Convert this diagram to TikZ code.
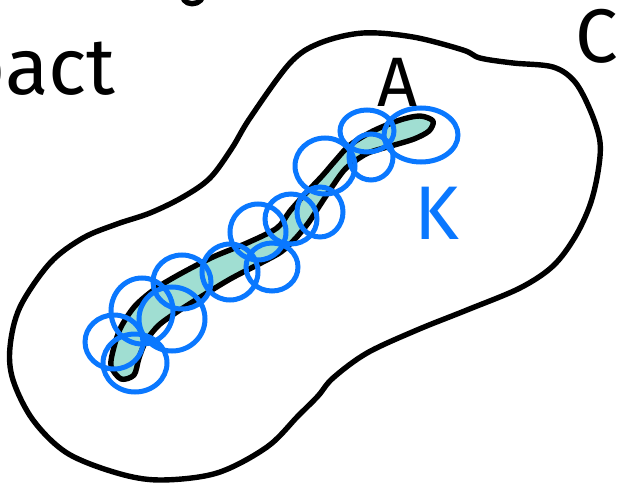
\documentclass[tikz,border=0pt]{standalone}
\usepackage{fontspec}
\setmainfont{Fira Sans}
\definecolor{penblue}{RGB}{10,120,255}
\definecolor{mint}{RGB}{160,222,210}
\tikzset{
  ink/.style={draw=black, line width=5.4pt, line cap=round, line join=round},
  loop/.style={draw=penblue, line width=5pt},
  letter/.style={inner sep=0pt, font=\fontsize{76}{76}\selectfont},
}
\begin{document}
\begin{tikzpicture}[x=1pt, y=-1pt]
\useasboundingbox (0,0) rectangle (621,487);
\clip (0,0) rectangle (621,487);

% label fragment at the top left
\node[letter, anchor=base east, font=\fontsize{80}{80}\selectfont] (word) at (116,95) {pact};
% tail of a stroke reaching in from above
\coordinate (tailA) at (184,0);
\coordinate (tailB) at (201,0);
\draw[ink] (tailA) .. controls (188,5) and (196,5) .. (tailB);

% the outer region C
\draw[ink] plot[smooth cycle, tension=0.55] coordinates {
  (250,118) (290,63) (320,43) (363,33) (413,37) (463,50) (480,58)
  (513,63) (553,67) (575,82) (591,112) (600,142) (598,172) (590,205)
  (575,237) (553,266) (520,288) (467,310) (417,330) (367,353) (333,378)
  (318,396) (298,416) (267,447) (217,473) (160,480) (117,473) (67,453)
  (33,420) (13,380) (10,347) (20,307) (50,263) (83,238) (117,224)
  (150,213) (183,197) (210,178) (232,148)};

% the thin set A
\filldraw[ink, fill=mint] plot[smooth cycle, tension=0.5] coordinates {
  (433,121) (420,116) (400,120) (373,131) (350,145) (335,161) (323,175)
  (307,192) (290,211) (277,228) (247,243) (213,257) (180,274) (155,289)
  (135,306) (121,327) (114,347) (111,366) (121,379)
  (134,375) (139,358) (146,341) (159,325) (180,310) (207,293) (232,278)
  (261,263) (281,252) (295,239) (309,222) (322,202) (341,174) (351,164)
  (368,153) (391,146) (414,139) (429,131)};

% covering of A by small discs
\draw[loop] (421,135) ellipse [x radius=37, y radius=27];
\draw[loop] (367,131) ellipse [x radius=27, y radius=21];
\draw[loop] (371,157) ellipse [x radius=22, y radius=23];
\draw[loop] (325,166) ellipse [x radius=30, y radius=28];
\draw[loop] (320,212) ellipse [x radius=23, y radius=25];
\draw[loop] (291,219) ellipse [x radius=26, y radius=25];
\draw[loop] (258,232) ellipse [x radius=28, y radius=28];
\draw[loop] (272,267) ellipse [x radius=26, y radius=24];
\draw[loop] (230,272) ellipse [x radius=28, y radius=28];
\draw[loop] (182,282) ellipse [x radius=29, y radius=27];
\draw[loop] (172,319) ellipse [x radius=33, y radius=32];
\draw[loop] (142,311) ellipse [x radius=31, y radius=33];
\draw[loop] (114,342) ellipse [x radius=29, y radius=27];
\draw[loop] (135,363) ellipse [x radius=32, y radius=29];

% labels
\node[letter, font=\fontsize{70}{70}\selectfont] (labA) at (398,82) {A};
\node[letter, text=penblue] (labK) at (437,213) {K};
\node[letter] (labC) at (597,36) {C};
\end{tikzpicture}
\end{document}
